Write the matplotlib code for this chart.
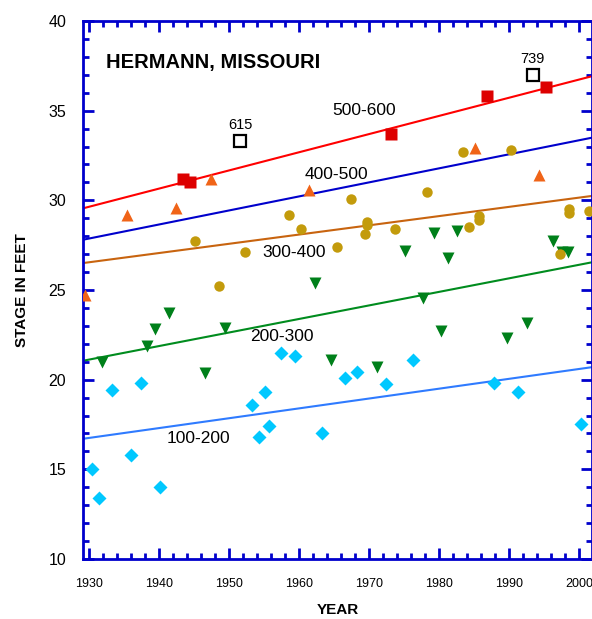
import numpy as np
import matplotlib
matplotlib.use('Agg')
import matplotlib.pyplot as plt
from matplotlib.ticker import MultipleLocator

plt.rcParams['font.family'] = ['Liberation Sans', 'DejaVu Sans']

##data
# 500-600 (red squares)
yr_500 = [1943.4, 1944.4, 1973.1, 1986.9, 1995.3]
st_500 = [31.2, 31.0, 33.7, 35.8, 36.3]
# open squares with labels
yr_open = [1951.6, 1993.4]
st_open = [33.3, 37.0]
lbl_open = ['615', '739']
# 400-500 (orange triangles)
yr_400 = [1929.4, 1935.4, 1942.4, 1947.4, 1961.4, 1985.1, 1994.3]
st_400 = [24.7, 29.2, 29.6, 31.2, 30.6, 32.9, 31.4]
# 300-400 (gold circles)
yr_300 = [1945.1, 1948.6, 1952.3, 1958.6, 1960.3, 1965.4, 1967.4, 1969.4, 1969.7, 1969.7,
          1973.7, 1978.3, 1983.4, 1984.3, 1985.7, 1985.7, 1990.3, 1997.3, 1998.6, 1998.6, 2001.4]
st_300 = [27.75, 25.2, 27.1, 29.2, 28.4, 27.4, 30.1, 28.1, 28.8, 28.6,
          28.4, 30.45, 32.7, 28.5, 29.1, 28.9, 32.8, 27.0, 29.5, 29.3, 29.4]
# 200-300 (green down triangles)
yr_200 = [1931.9, 1938.3, 1939.4, 1941.4, 1946.6, 1949.4, 1962.3, 1964.6, 1971.1, 1975.1,
          1977.7, 1979.3, 1980.3, 1981.3, 1982.6, 1989.7, 1992.6, 1996.3, 1997.6, 1998.4]
st_200 = [21.0, 21.9, 22.8, 23.7, 20.35, 22.9, 25.4, 21.1, 20.7, 27.2,
          24.55, 28.2, 22.7, 26.8, 28.3, 22.3, 23.15, 27.75, 27.1, 27.1]
# 100-200 (light blue diamonds)
yr_100 = [1930.4, 1931.4, 1933.3, 1936.0, 1937.4, 1940.1, 1953.3, 1954.3, 1955.1, 1955.7,
          1957.4, 1959.4, 1963.3, 1966.6, 1968.3, 1972.4, 1976.3, 1987.9, 1991.3, 2000.3]
st_100 = [15.0, 13.4, 19.4, 15.8, 19.8, 14.0, 18.6, 16.8, 19.3, 17.4,
          21.5, 21.3, 17.0, 20.1, 20.4, 19.75, 21.1, 19.8, 19.3, 17.55]

#trend lines: stage at start and end year
line_years = [1929.1, 2001.9]
trend = {
	'500-600': [29.55, 36.93],
	'400-500': [27.8, 33.5],
	'300-400': [26.5, 30.25],
	'200-300': [21.05, 26.55],
	'100-200': [16.7, 20.7],
}
line_colors = {'500-600': '#ff0000', '400-500': '#0000cc', '300-400': '#c8640f',
               '200-300': '#008c1e', '100-200': '#2f7bff'}
label_pos = {'500-600': (1969.3, 35.0), '400-500': (1965.3, 31.45), '300-400': (1959.3, 27.1),
             '200-300': (1957.6, 22.4), '100-200': (1945.6, 16.7)}

fig = plt.figure(figsize=(5.92, 6.19), dpi=100)
ax = fig.add_axes([0.1397, 0.097, 0.861, 0.869])

for k, vals in trend.items():
	ax.plot(line_years, vals, color=line_colors[k], lw=1.5, zorder=2)
	ax.text(*label_pos[k], k, fontsize=12.5, ha='center', va='center', zorder=4)

ax.plot(yr_100, st_100, 'D', color='#00c8ff', ms=7.3, mec='none', zorder=3)
ax.plot(yr_200, st_200, 'v', color='#00801a', ms=9, mec='none', zorder=3)
ax.plot(yr_300, st_300, 'o', color='#c39b0c', ms=7.5, mec='none', zorder=3)
ax.plot(yr_400, st_400, '^', color='#f06418', ms=9, mec='none', zorder=3)
ax.plot(yr_500, st_500, 's', color='#dd0000', ms=8.5, mec='none', zorder=3)
ax.plot(yr_open, st_open, 's', mfc='white', mec='black', mew=1.6, ms=8.5, zorder=3)
for x, y, t in zip(yr_open, st_open, lbl_open):
	ax.text(x, y + 0.5, t, fontsize=10.5, ha='center', va='bottom')

ax.text(1932.4, 37.7, 'HERMANN, MISSOURI', fontsize=14.5, fontweight='bold', va='center')

ax.set_xlim(line_years)
ax.set_ylim(10, 40)
ax.xaxis.set_major_locator(MultipleLocator(10))
ax.xaxis.set_minor_locator(MultipleLocator(2))
ax.yaxis.set_major_locator(MultipleLocator(5))
ax.yaxis.set_minor_locator(MultipleLocator(1))
blue = '#0000cc'
for s in ax.spines.values():
	s.set_color(blue)
	s.set_linewidth(2)
ax.tick_params(which='both', direction='in', top=True, right=True, color=blue, width=2)
ax.tick_params(which='major', length=8)
ax.tick_params(which='minor', length=4)
ax.tick_params(axis='x', labelsize=9, pad=14)
ax.tick_params(axis='y', labelsize=11.5, pad=12)

ax.set_xlabel('YEAR', fontsize=11, fontweight='bold', labelpad=9)
ax.set_ylabel('STAGE IN FEET', fontsize=11, fontweight='bold', labelpad=14)

fig.savefig('out.png', dpi=100)
